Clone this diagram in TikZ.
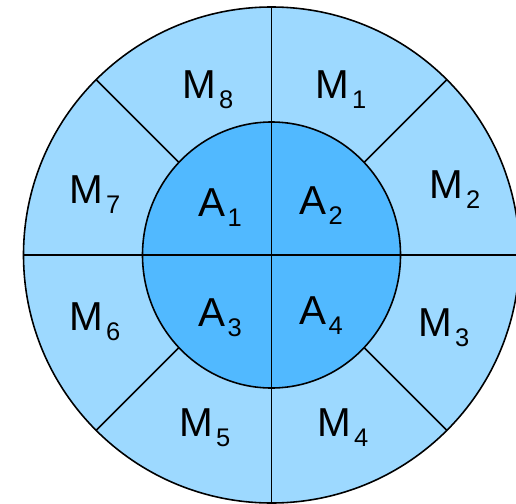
\documentclass[tikz,border=0pt]{standalone}
\usepackage{fontspec}
\setmainfont{Liberation Sans}
\usepackage{xcolor}
\usepackage{tikz}

\definecolor{ringblue}{RGB}{157,217,255}
\definecolor{coreblue}{RGB}{81,185,255}
\newcommand{\subidx}[1]{\hspace{1.5pt}\raisebox{-5.7pt}{\fontsize{14.5}{16}\selectfont #1}}

\begin{document}
\begin{tikzpicture}[x=0.02cm,y=-0.02cm,
    sector/.style={font=\fontsize{23}{27}\selectfont,inner sep=0pt}]
        \useasboundingbox (0,0) rectangle (516,503);
        \coordinate (c) at (271.5,255);
        % outer ring
        \draw[line width=0.9pt,fill=ringblue] (c) ellipse [x radius=248,y radius=248];
        \foreach \ang in {45,135,225,315}
            \draw[line width=0.9pt] (c) -- ++(\ang:248);
        % inner core
        \draw[line width=0.9pt,fill=coreblue] (c) ellipse [x radius=129,y radius=133];
        \draw[line width=0.9pt] (c) ++(180:248) -- ++(0:496);
        \draw[line width=0.9pt] (c) ++(90:248) -- ++(270:496);
        % labels
        \node[sector] (m8) at (208,90) {M\subidx{8}};
        \node[sector] (m1) at (341,90) {M\subidx{1}};
        \node[sector] (m2) at (455,190) {M\subidx{2}};
        \node[sector] (m7) at (95,195) {M\subidx{7}};
        \node[sector] (a1) at (220,208) {A\subidx{1}};
        \node[sector] (a2) at (321,206) {A\subidx{2}};
        \node[sector] (a3) at (220,318) {A\subidx{3}};
        \node[sector] (a4) at (321,316) {A\subidx{4}};
        \node[sector] (m6) at (95,322) {M\subidx{6}};
        \node[sector] (m3) at (444,328) {M\subidx{3}};
        \node[sector] (m5) at (205,428) {M\subidx{5}};
        \node[sector] (m4) at (343,428) {M\subidx{4}};
\end{tikzpicture}
\end{document}
